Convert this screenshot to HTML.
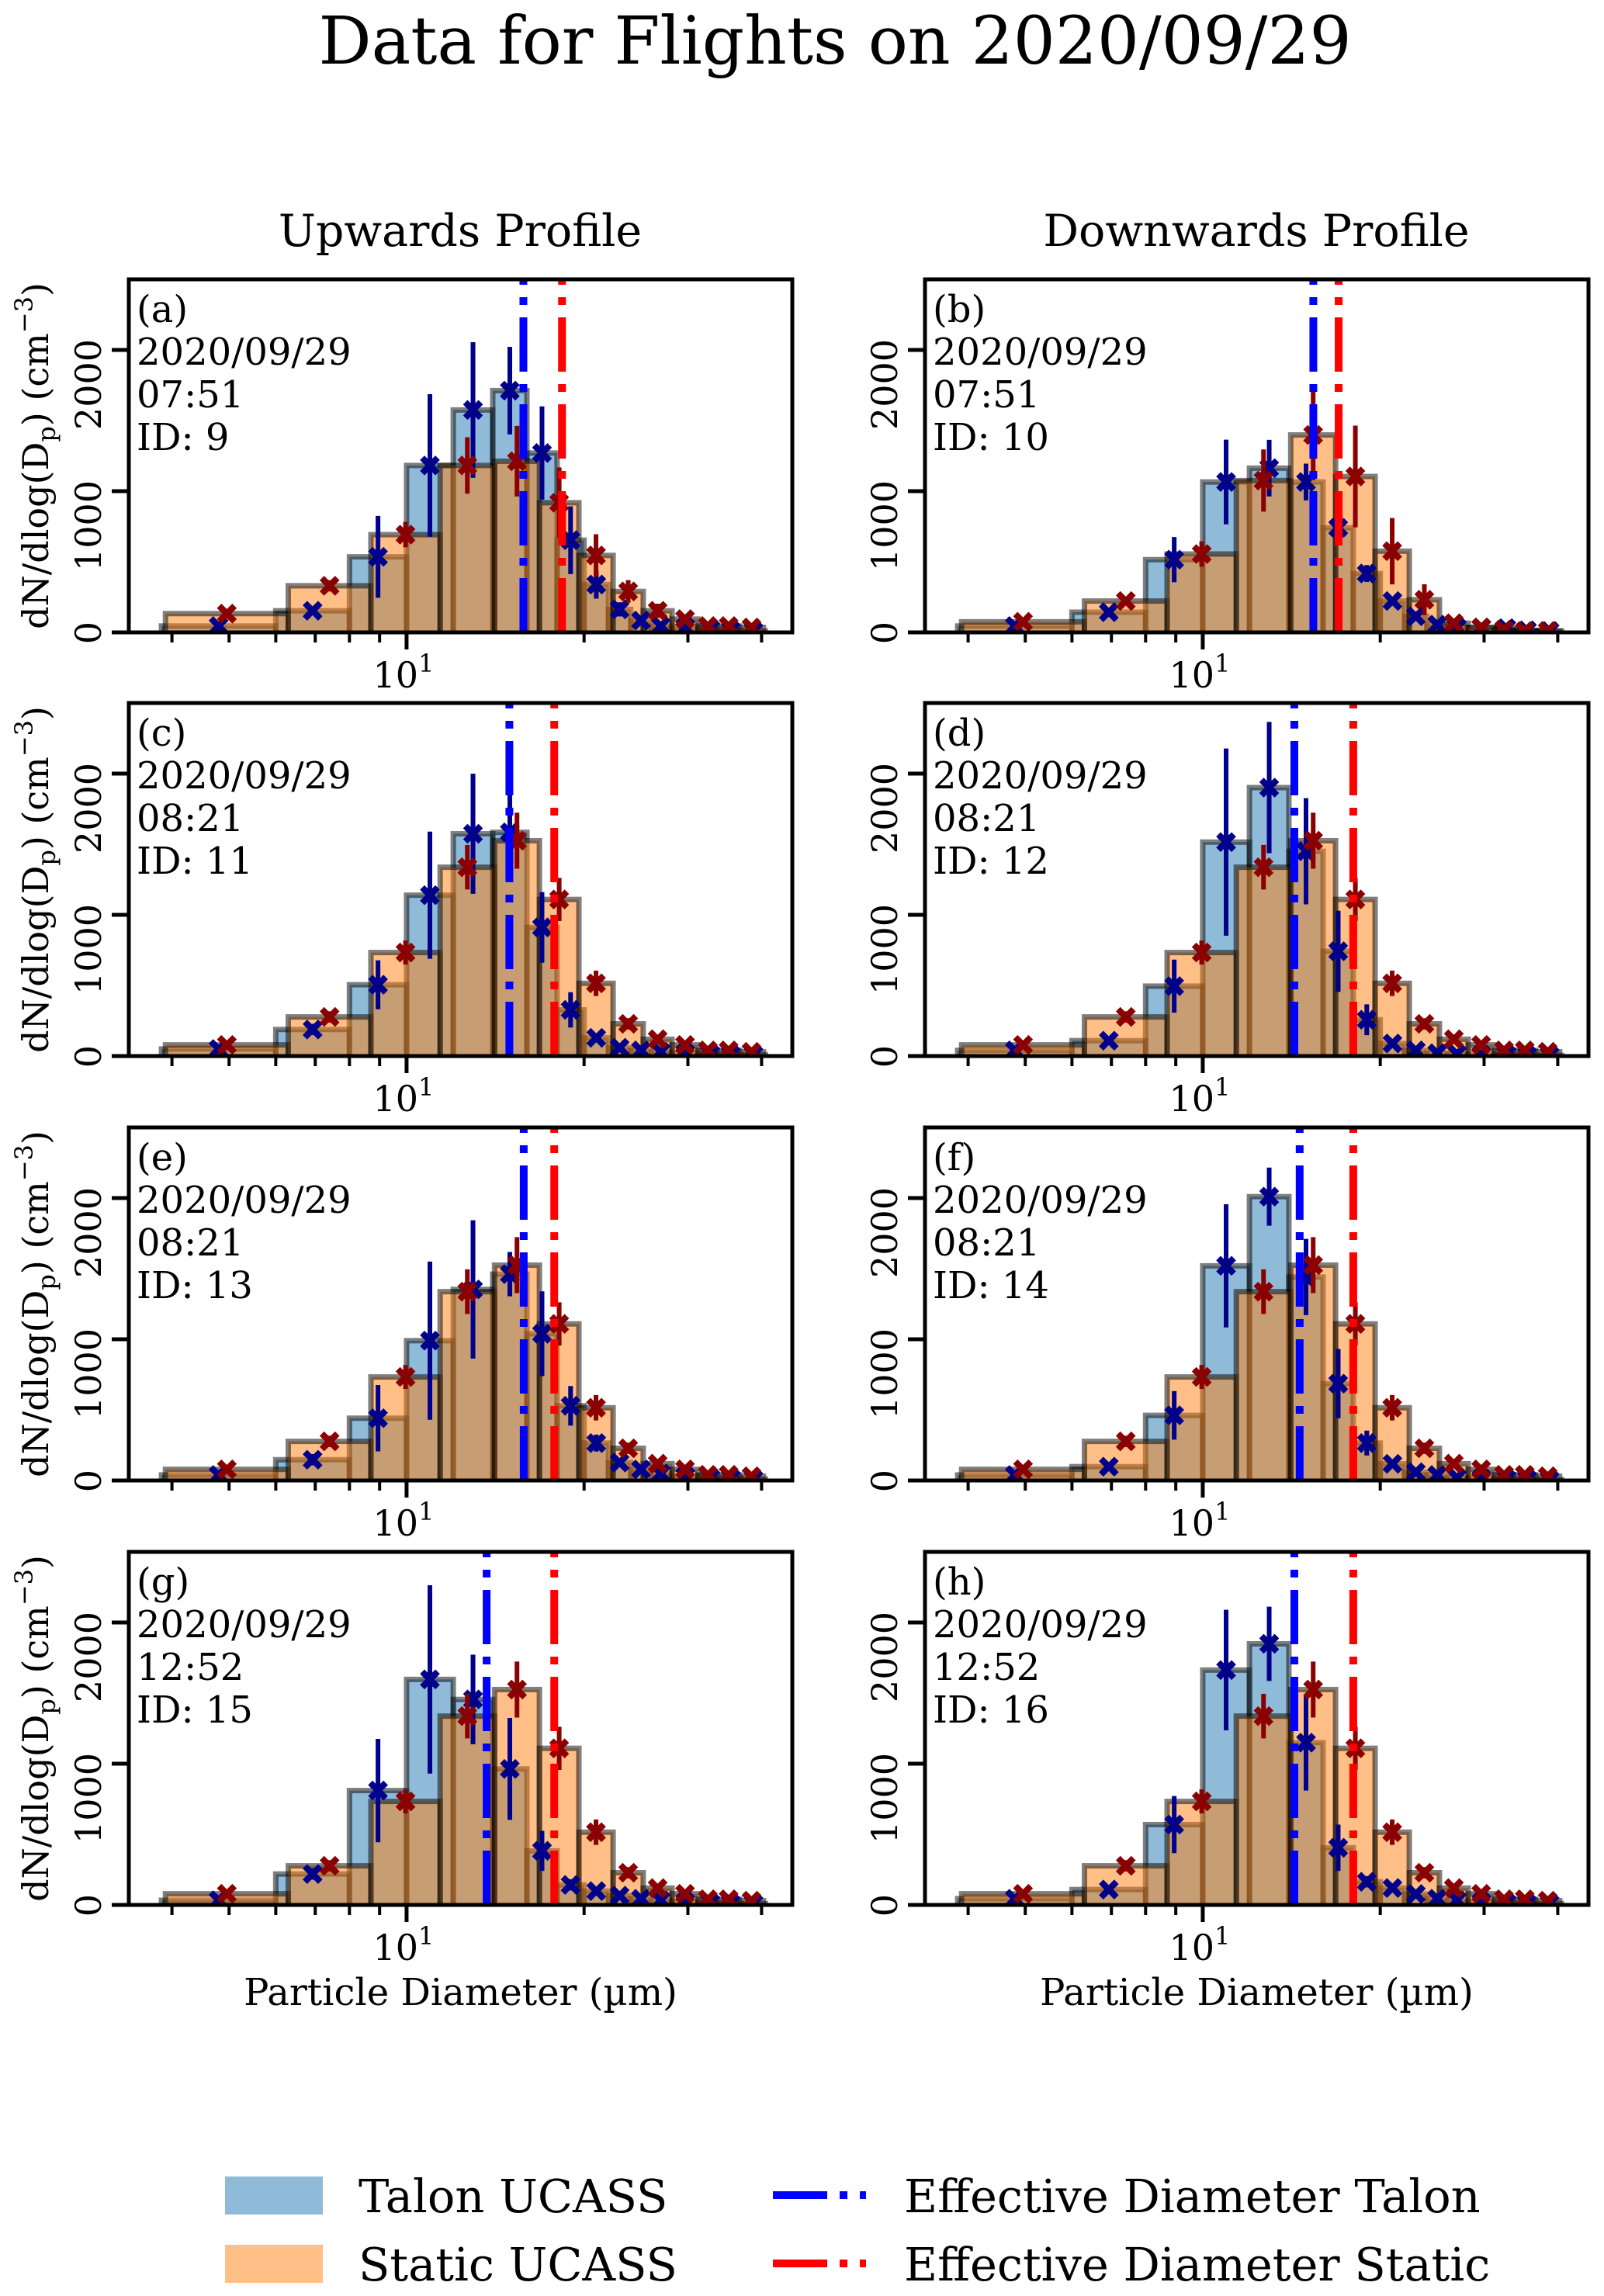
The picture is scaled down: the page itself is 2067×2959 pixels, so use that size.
<!DOCTYPE html>
<html><head><meta charset="utf-8">
<style>
html,body{margin:0;padding:0;background:#fff;}
svg{display:block;font-family:"DejaVu Serif","Liberation Serif",serif;}
</style></head>
<body>
<svg id="fig" width="2067" height="2959" viewBox="0 0 2067 2959" xmlns="http://www.w3.org/2000/svg">
<rect width="2067" height="2959" fill="#fff"/>
<text x="1076" y="82" font-size="85" text-anchor="middle">Data for Flights on 2020/09/29</text>
<text x="593" y="317" font-size="57" text-anchor="middle">Upwards Profile</text>
<text x="1619" y="317" font-size="57" text-anchor="middle">Downwards Profile</text>
<g id="panels"></g>
<g>
  <rect x="290" y="2805" width="126" height="49" fill="#1f77b4" fill-opacity="0.5"/>
  <text x="462" y="2851" font-size="59">Talon UCASS</text>
  <rect x="290" y="2893" width="126" height="49" fill="#ff7f0e" fill-opacity="0.5"/>
  <text x="462" y="2939" font-size="59">Static UCASS</text>
  <line x1="996" y1="2829" x2="1116" y2="2829" stroke="#0000ff" stroke-width="10" stroke-dasharray="70 16 10 16"/>
  <text x="1165" y="2851" font-size="59">Effective Diameter Talon</text>
  <line x1="996" y1="2917" x2="1116" y2="2917" stroke="#ff0000" stroke-width="10" stroke-dasharray="70 16 10 16"/>
  <text x="1165" y="2939" font-size="59">Effective Diameter Static</text>
</g>
</svg>
<script>
const talonEdges = [3.84,6,8,10,12,14,16,18,20,22,24,26,28,31.5,34,37,40.6];
const staticEdges = [3.9,6.3,8.7,11.4,14.1,16.8,19.6,22.4,25.2,28.2,31.2,33.7,36.7,40.3];
const panelLabels = ['(a)','(b)','(c)','(d)','(e)','(f)','(g)','(h)'];
const panelTimes = ['07:51','07:51','08:21','08:21','08:21','08:21','12:52','12:52'];
const panelIds = ['9','10','11','12','13','14','15','16'];
const talonVals = [
 [45,153,535,1182,1575,1712,1270,653,339,163,84,45,35,25,15,10],
 [45,143,515,1065,1163,1065,741,417,222,114,55,35,35,30,15,10],
 [50,188,505,1139,1574,1584,911,327,129,59,40,30,20,15,10,10],
 [40,109,495,1515,1901,1450,742,257,89,40,20,15,10,10,5,5],
 [39,147,441,990,1353,1461,1039,529,265,127,78,49,30,20,15,10],
 [39,98,461,1520,2010,1441,686,265,118,59,39,20,15,10,10,5],
 [33,219,810,1597,1455,963,383,142,98,66,44,33,20,15,10,10],
 [44,109,569,1663,1849,1149,405,164,120,77,44,33,20,15,10,10]
];
const talonErrs = [
 [15,30,290,505,480,310,330,240,100,50,30,20,15,10,8,5],
 [15,30,160,300,200,130,70,60,30,20,15,10,10,8,5,5],
 [15,40,173,450,425,312,250,125,30,15,10,8,5,5,5,5],
 [10,30,188,663,465,376,287,109,25,10,8,5,5,5,5,5],
 [10,40,235,560,490,157,300,140,60,30,20,10,8,5,5,5],
 [10,30,172,436,206,270,245,88,25,10,8,5,5,5,5,5],
 [10,40,366,667,317,361,142,40,20,15,10,8,5,5,5,5],
 [10,30,202,427,263,339,164,40,20,15,10,8,5,5,5,5]
];
const staticVals = [
 [133,330,692,1182,1212,918,545,290,153,94,45,45,35],
 [75,222,555,1075,1398,1104,575,231,65,35,20,10,10],
 [79,277,733,1337,1525,1109,515,228,119,79,40,40,30],
 [79,277,733,1337,1525,1109,515,228,119,79,40,40,30],
 [79,277,733,1337,1525,1109,515,228,119,79,40,40,30],
 [79,277,733,1337,1525,1109,515,228,119,79,40,40,30],
 [79,277,733,1337,1525,1109,515,228,119,79,40,40,30],
 [79,277,733,1337,1525,1109,515,228,119,79,40,40,30]
];
const staticErrs = [
 [20,40,90,200,250,250,150,80,50,30,15,10,10],
 [20,30,90,220,320,360,235,110,30,15,10,5,5],
 [20,40,85,158,198,153,90,40,25,15,10,8,5],
 [20,40,85,158,198,153,90,40,25,15,10,8,5],
 [20,40,85,158,198,153,90,40,25,15,10,8,5],
 [20,40,85,158,198,153,90,40,25,15,10,8,5],
 [20,40,85,158,198,153,90,40,25,15,10,8,5],
 [20,40,85,158,198,153,90,40,25,15,10,8,5]
];
const effTalon = [15.78,15.4,14.94,14.3,15.8,14.6,13.67,14.3];
const effStatic = [18.35,17.0,17.8,18.0,17.8,18.0,17.8,18.0];
const yTicks = [0,1000,2000];
const yTickLabels = ['0','1000','2000'];
const xMajorTicks = [10];
const xMinorTicks = [4,5,6,7,8,9,20,30,40];

const NS='http://www.w3.org/2000/svg';
const XMIN=3.38, XMAX=45.1, YMAX=2500;
const colLeft=[166,1192], rowTop=[360,906,1453,2000], W=855, H=455;
function mk(tag, attrs, parent){const e=document.createElementNS(NS,tag);for(const k in attrs)e.setAttribute(k,attrs[k]);parent.appendChild(e);return e;}
function xS(d,c){return colLeft[c]+(Math.log10(d)-Math.log10(XMIN))/(Math.log10(XMAX)-Math.log10(XMIN))*W;}
function yS(v,r){return rowTop[r]+H-v/YMAX*H;}
function xMarker(g,cx,cy,color){
  const s=8,t=3.6,k=1.6;
  const pts=[[-s,-s+t],[-s+t,-s],[0,-t],[s-t,-s],[s,-s+t],[t,0],[s,s-t],[s-t,s],[0,t],[-s+t,s],[-s,s-t],[-t,0]].map(p=>(cx+p[0]*k)+','+(cy+p[1]*k)).join(' ');
  return mk('polygon',{points:pts,fill:color},g);
}
const root=document.getElementById('panels');
for(let p=0;p<8;p++){
  const c=p%2, r=Math.floor(p/2);
  const L=colLeft[c], T=rowTop[r], B=T+H;
  const g=mk('g',{},root);
  
  
  const cid='clip'+p;
  const cp=mk('clipPath',{id:cid},g);
  mk('rect',{x:L,y:T,width:W,height:H},cp);
  const plot=mk('g',{'clip-path':'url(#'+cid+')'},g);
  
  
  talonVals[p].forEach((v,i)=>{
    const x0=xS(talonEdges[i],c), x1=xS(talonEdges[i+1],c);
    const b=mk('rect',{x:x0,y:yS(v,r),width:x1-x0,height:B-yS(v,r)+10,fill:'#1f77b4','fill-opacity':0.5,stroke:'#000','stroke-opacity':0.5,'stroke-width':7},plot);
    
    
  });
  staticVals[p].forEach((v,i)=>{
    const x0=xS(staticEdges[i],c), x1=xS(staticEdges[i+1],c);
    const b=mk('rect',{x:x0,y:yS(v,r),width:x1-x0,height:B-yS(v,r)+10,fill:'#ff7f0e','fill-opacity':0.5,stroke:'#000','stroke-opacity':0.5,'stroke-width':7},plot);
    
    
  });
  talonVals[p].forEach((v,i)=>{
    const xc=xS(Math.sqrt(talonEdges[i]*talonEdges[i+1]),c);
    const e=talonErrs[p][i];
    const l=mk('line',{x1:xc,x2:xc,y1:yS(v+e,r),y2:yS(Math.max(v-e,0),r),stroke:'#00008b','stroke-width':6},plot);
    
    
    const m=xMarker(plot,xc,yS(v,r),'#00008b');
    
    
  });
  staticVals[p].forEach((v,i)=>{
    const xc=xS(Math.sqrt(staticEdges[i]*staticEdges[i+1]),c);
    const e=staticErrs[p][i];
    const l=mk('line',{x1:xc,x2:xc,y1:yS(v+e,r),y2:yS(Math.max(v-e,0),r),stroke:'#8b0000','stroke-width':6},plot);
    
    
    const m=xMarker(plot,xc,yS(v,r),'#8b0000');
    
    
  });
  const xt=xS(effTalon[p],c);
  const lt=mk('line',{x1:xt,x2:xt,y1:B,y2:T,stroke:'#0000ff','stroke-width':10,'stroke-dasharray':'70 16 10 16'},plot);
  
  
  const xs=xS(effStatic[p],c);
  const ls=mk('line',{x1:xs,x2:xs,y1:B,y2:T,stroke:'#ff0000','stroke-width':10,'stroke-dasharray':'70 16 10 16'},plot);
  
  
  const fr=mk('rect',{x:L,y:T,width:W,height:H,fill:'none',stroke:'#000','stroke-width':5},g);
  
  
  yTicks.forEach((v,i)=>{
    const y=yS(v,r);
    const t=mk('line',{x1:L-22,x2:L,y1:y,y2:y,stroke:'#000','stroke-width':5},g);
    
    
    const tx=L-36, ty=y-14;
    const lab=mk('text',{x:tx,y:ty,'font-size':46,'text-anchor':'end',transform:'rotate(-90 '+tx+' '+ty+')'},g);
    lab.textContent=yTickLabels[i];
    
    
  });
  xMajorTicks.forEach(d=>{
    const x=xS(d,c);
    const t=mk('line',{x1:x,x2:x,y1:B,y2:B+22,stroke:'#000','stroke-width':5},g);
    
    
    const lab=mk('text',{x:x-4,y:B+71,'font-size':46,'text-anchor':'middle'},g);
    
    
    const t1=mk('tspan',{},lab); t1.textContent='10';
    const t2=mk('tspan',{'font-size':32,dy:-20}, lab); t2.textContent='1';
  });
  xMinorTicks.forEach(d=>{
    const x=xS(d,c);
    const t=mk('line',{x1:x,x2:x,y1:B,y2:B+13,stroke:'#000','stroke-width':4},g);
    
    
  });
  const lines=[panelLabels[p],'2020/09/29',panelTimes[p],'ID: '+panelIds[p]];
  lines.forEach((s,k)=>{
    const a=mk('text',{x:L+10,y:T+55*(k+1),'font-size':48},g);
    a.textContent=s;
    
    
  });
  if(c===0){
    const yc=T+H/2, xl=62;
    const yl=mk('text',{x:xl,y:yc,'font-size':46,'text-anchor':'middle',transform:'rotate(-90 '+xl+' '+yc+')'},g);
    
    
    const a1=mk('tspan',{},yl); a1.textContent='dN/dlog(D';
    const a2=mk('tspan',{'font-size':32,dy:9},yl); a2.textContent='p';
    const a3=mk('tspan',{dy:-9},yl); a3.textContent=') (cm';
    const a4=mk('tspan',{'font-size':32,dy:-20},yl); a4.textContent='\u22123';
    const a5=mk('tspan',{dy:20},yl); a5.textContent=')';
  }
  if(r===3){
    const xl=mk('text',{x:L+W/2,y:B+129,'font-size':48,'text-anchor':'middle'},g);
    xl.textContent='Particle Diameter (\u00b5m)';
    
    
  }
}
</script>
</body></html>
